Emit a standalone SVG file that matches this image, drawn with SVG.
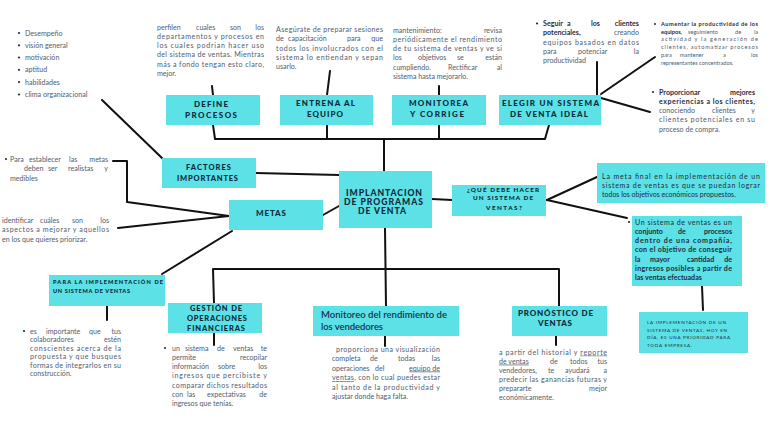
<svg xmlns="http://www.w3.org/2000/svg" width="768" height="431" viewBox="0 0 768 431">
<style>
.box{fill:#5ce1e6}
.lbl{font-family:Lato,"Open Sans",sans-serif;font-weight:900;fill:#0d2a3b}
.t{font-family:Lato,"Open Sans",sans-serif;font-size:7.1px;fill:#505d70}
.s{font-size:5.6px}
.m{font-size:7px}
.b{font-weight:700;fill:#1f2d42}
.n{fill:#1f2d42}
.p{font-family:Lato,"Open Sans",sans-serif;font-size:4.6px;fill:#1f2d42}
.c line,.c polyline{stroke:#111;stroke-width:2;fill:none;stroke-linecap:round;stroke-linejoin:round}
.dot{fill:#1f2d42}
</style>
<rect width="768" height="431" fill="#ffffff"/>

<g id="connectors" class="c">
<line x1="102" y1="100" x2="163" y2="159"/>
<line x1="212" y1="86" x2="213" y2="95"/>
<line x1="330" y1="71" x2="327" y2="95"/>
<line x1="439" y1="86" x2="439" y2="95"/>
<line x1="597" y1="62" x2="597" y2="95"/>
<line x1="601" y1="94" x2="655" y2="57"/>
<line x1="601" y1="98" x2="650" y2="112"/>
<polyline points="213,125 215,139 545,139 549,125"/>
<line x1="327" y1="125" x2="327" y2="139"/>
<line x1="439" y1="125" x2="439" y2="139"/>
<line x1="384" y1="139" x2="384" y2="171"/>
<line x1="256" y1="173" x2="339" y2="175"/>
<polyline points="113,161 127,161 127,202 229,216"/>
<line x1="118" y1="228" x2="229" y2="216"/>
<line x1="232" y1="231" x2="162" y2="274"/>
<line x1="323" y1="215" x2="339" y2="206"/>
<line x1="432" y1="199" x2="452" y2="200"/>
<line x1="547" y1="200" x2="597" y2="177"/>
<line x1="547" y1="200" x2="627" y2="218"/>
<line x1="702" y1="286" x2="703" y2="310"/>
<line x1="385" y1="228" x2="386" y2="306"/>
<polyline points="214,303 213,269 559,269 559,306"/>
<line x1="107" y1="306" x2="107" y2="320"/>
<line x1="214" y1="333" x2="214" y2="345"/>
<line x1="385" y1="336" x2="385" y2="346"/>
<line x1="556" y1="336" x2="556" y2="345"/>
</g>

<g id="lista-factores">
<circle class="dot" cx="19" cy="33" r="1.1"/><text class="t" x="25" y="35.5">Desempeño</text>
<circle class="dot" cx="19" cy="45.3" r="1.1"/><text class="t" x="25" y="47.8">visión general</text>
<circle class="dot" cx="19" cy="57.5" r="1.1"/><text class="t" x="25" y="60">motivación</text>
<circle class="dot" cx="19" cy="69.8" r="1.1"/><text class="t" x="25" y="72.3">aptitud</text>
<circle class="dot" cx="19" cy="82.1" r="1.1"/><text class="t" x="25" y="84.6">habilidades</text>
<circle class="dot" cx="19" cy="94.5" r="1.1"/><text class="t" x="25" y="97">clima organizacional</text>
</g>

<g id="texto-define">
<text class="t" y="29.8"><tspan x="157">perfilen</tspan><tspan x="196">cuales</tspan><tspan x="230">son</tspan></text>
<text class="t" x="264" y="29.8" text-anchor="end">los</text>
<text class="t" x="157" y="39" textLength="107" lengthAdjust="spacing">departamentos y procesos en</text>
<text class="t" x="157" y="48.2" textLength="107" lengthAdjust="spacing">los cuales podrian hacer uso</text>
<text class="t" x="157" y="57.4" textLength="107" lengthAdjust="spacing">del sistema de ventas. Mientras</text>
<text class="t" x="157" y="66.6" textLength="107" lengthAdjust="spacing">más a fondo tengan esto claro,</text>
<text class="t" x="157" y="75.8">mejor.</text>
</g>

<g id="texto-entrena">
<text class="t" x="276" y="32" textLength="107" lengthAdjust="spacing">Asegúrate de preparar sesiones</text>
<text class="t" y="41.3"><tspan x="276">de</tspan><tspan x="288">capacitación</tspan><tspan x="347">para</tspan></text>
<text class="t" x="383" y="41.3" text-anchor="end">que</text>
<text class="t" x="276" y="50.5" textLength="107" lengthAdjust="spacing">todos los involucrados con el</text>
<text class="t" x="276" y="59.7" textLength="107" lengthAdjust="spacing">sistema lo entiendan y sepan</text>
<text class="t" x="276" y="69">usarlo.</text>
</g>

<g id="texto-monitorea">
<text class="t" x="393" y="32.5">mantenimiento:</text>
<text class="t" x="502" y="32.5" text-anchor="end">revisa</text>
<text class="t" x="393" y="41.8" textLength="109" lengthAdjust="spacing">periódicamente el rendimiento</text>
<text class="t" x="393" y="51.1" textLength="109" lengthAdjust="spacing">de tu sistema de ventas y ve si</text>
<text class="t" y="60.4"><tspan x="393">los</tspan><tspan x="418">objetivos</tspan><tspan x="457">se</tspan></text>
<text class="t" x="502" y="60.4" text-anchor="end">están</text>
<text class="t" y="69.7"><tspan x="393">cumpliendo.</tspan><tspan x="448">Rectificar</tspan></text>
<text class="t" x="502" y="69.7" text-anchor="end">al</text>
<text class="t" x="393" y="79">sistema hasta mejorarlo.</text>
</g>

<g id="texto-seguir">
<circle class="dot" cx="537" cy="23.5" r="1.1"/>
<text class="t b" y="26"><tspan x="543">Seguir</tspan><tspan x="567">a</tspan><tspan x="591">los</tspan></text>
<text class="t b" x="639" y="26" text-anchor="end">clientes</text>
<text class="t b" x="543" y="35.2">potenciales,</text>
<text class="t" x="639" y="35.2" text-anchor="end">creando</text>
<text class="t" x="543" y="44.5" textLength="96" lengthAdjust="spacing">equipos basados en datos</text>
<text class="t" y="53.8"><tspan x="543">para</tspan><tspan x="578">potenciar</tspan></text>
<text class="t" x="639" y="53.8" text-anchor="end">la</text>
<text class="t" x="543" y="63">productividad</text>
</g>

<g id="texto-aumentar">
<circle class="dot" cx="655" cy="24" r="1"/>
<text class="t s b" x="661" y="26" textLength="97" lengthAdjust="spacing">Aumentar la productividad de los</text>
<text class="t s b" x="661" y="33.7">equipos,</text>
<text class="t s" y="33.7"><tspan x="688">seguimiento</tspan><tspan x="735">de</tspan></text>
<text class="t s" x="758" y="33.7" text-anchor="end">la</text>
<text class="t s" x="661" y="41.4" textLength="97" lengthAdjust="spacing">actividad y la generación de</text>
<text class="t s" x="661" y="49.1" textLength="97" lengthAdjust="spacing">clientes, automatizar procesos</text>
<text class="t s" y="56.8"><tspan x="661">para</tspan><tspan x="680">mantener</tspan><tspan x="723">a</tspan></text>
<text class="t s" x="758" y="56.8" text-anchor="end">los</text>
<text class="t s" x="661" y="64.5">representantes concentrados.</text>
</g>

<g id="texto-proporcionar">
<circle class="dot" cx="653" cy="92" r="1.1"/>
<text class="t b" x="659" y="94.5">Proporcionar</text>
<text class="t b" x="755" y="94.5" text-anchor="end">mejores</text>
<text class="t b" x="659" y="103.8" textLength="96" lengthAdjust="spacing">experiencias a los clientes,</text>
<text class="t" y="113"><tspan x="659">conociendo</tspan><tspan x="712">clientes</tspan></text>
<text class="t" x="755" y="113" text-anchor="end">y</text>
<text class="t" x="659" y="122.3" textLength="96" lengthAdjust="spacing">clientes potenciales en su</text>
<text class="t" x="659" y="131.5">proceso de compra.</text>
</g>

<g id="texto-metas-1">
<circle class="dot" cx="6" cy="159" r="1.1"/>
<text class="t" y="161.5"><tspan x="10">Para</tspan><tspan x="29">establecer</tspan><tspan x="69">las</tspan></text>
<text class="t" x="108" y="161.5" text-anchor="end">metas</text>
<text class="t" y="171"><tspan x="24">deben</tspan><tspan x="48">ser</tspan><tspan x="68">realistas</tspan></text>
<text class="t" x="108" y="171" text-anchor="end">y</text>
<text class="t" x="10" y="180.5">medibles</text>
</g>

<g id="texto-metas-2">
<text class="t" y="222.5"><tspan x="2">identificar</tspan><tspan x="40">cuáles</tspan><tspan x="72">son</tspan></text>
<text class="t" x="109" y="222.5" text-anchor="end">los</text>
<text class="t" x="2" y="232" textLength="107" lengthAdjust="spacing">aspectos a mejorar y aquellos</text>
<text class="t" x="2" y="241.5">en los que quieres priorizar.</text>
</g>

<g id="texto-para-la">
<circle class="dot" cx="24" cy="331" r="1.1"/>
<text class="t" y="333.5"><tspan x="30">es</tspan><tspan x="46">importante</tspan><tspan x="89">que</tspan></text>
<text class="t" x="121" y="333.5" text-anchor="end">tus</text>
<text class="t" x="30" y="342">colaboradores</text>
<text class="t" x="121" y="342" text-anchor="end">estén</text>
<text class="t" x="30" y="350.5" textLength="91" lengthAdjust="spacing">conscientes acerca de la</text>
<text class="t" x="30" y="359" textLength="91" lengthAdjust="spacing">propuesta y que busques</text>
<text class="t" x="30" y="367.5" textLength="91" lengthAdjust="spacing">formas de integrarlos en su</text>
<text class="t" x="30" y="376">construcción.</text>
</g>

<g id="texto-gestion">
<circle class="dot" cx="165" cy="348" r="1.1"/>
<text class="t" y="350.5"><tspan x="172">un</tspan><tspan x="185">sistema</tspan><tspan x="217">de</tspan><tspan x="233">ventas</tspan></text>
<text class="t" x="267" y="350.5" text-anchor="end">te</text>
<text class="t" x="172" y="359.8">permite</text>
<text class="t" x="267" y="359.8" text-anchor="end">recopilar</text>
<text class="t" y="369.1"><tspan x="172">información</tspan><tspan x="218">sobre</tspan></text>
<text class="t" x="267" y="369.1" text-anchor="end">los</text>
<text class="t" x="172" y="378.4" textLength="95" lengthAdjust="spacing">ingresos que percibiste y</text>
<text class="t" x="172" y="387.7" textLength="95" lengthAdjust="spacing">comparar dichos resultados</text>
<text class="t" y="397"><tspan x="172">con</tspan><tspan x="187">las</tspan><tspan x="207">expectativas</tspan></text>
<text class="t" x="267" y="397" text-anchor="end">de</text>
<text class="t" x="172" y="406.3">ingresos que tenías.</text>
</g>

<g id="texto-monitoreo">
<text class="t" x="336" y="351.5" textLength="104" lengthAdjust="spacing">proporciona una visualización</text>
<text class="t" y="361"><tspan x="332">completa</tspan><tspan x="370">de</tspan><tspan x="398">todas</tspan></text>
<text class="t" x="440" y="361" text-anchor="end">las</text>
<text class="t" y="370.5"><tspan x="332">operaciones</tspan><tspan x="375">del</tspan></text>
<text class="t" x="440" y="370.5" text-anchor="end" text-decoration="underline">equipo de</text>
<text class="t" x="332" y="380" textLength="108" lengthAdjust="spacing"><tspan text-decoration="underline">ventas</tspan>, con lo cual puedes estar</text>
<text class="t" x="332" y="389.5" textLength="108" lengthAdjust="spacing">al tanto de la productividad y</text>
<text class="t" x="332" y="399">ajustar donde haga falta.</text>
</g>

<g id="texto-pronostico">
<text class="t" x="499" y="354.5" textLength="108" lengthAdjust="spacing">a partir del historial y <tspan text-decoration="underline">reporte</tspan></text>
<text class="t" x="499" y="363.6" text-decoration="underline">de ventas</text>
<text class="t" y="363.6"><tspan x="550">de</tspan><tspan x="570">todos</tspan></text>
<text class="t" x="607" y="363.6" text-anchor="end">tus</text>
<text class="t" y="372.7"><tspan x="499">vendedores,</tspan><tspan x="548">te</tspan><tspan x="565">ayudará</tspan></text>
<text class="t" x="607" y="372.7" text-anchor="end">a</text>
<text class="t" x="499" y="381.8" textLength="108" lengthAdjust="spacing">predecir las ganancias futuras y</text>
<text class="t" x="499" y="390.9">prepararte</text>
<text class="t" x="607" y="390.9" text-anchor="end">mejor</text>
<text class="t" x="499" y="400">económicamente.</text>
</g>

<g id="define-procesos">
<rect class="box" x="166" y="95" width="94" height="30"/>
<text class="lbl" font-size="8" x="194" y="107" textLength="34" lengthAdjust="spacing">DEFINE</text>
<text class="lbl" font-size="8" x="185" y="118" textLength="52" lengthAdjust="spacing">PROCESOS</text>
</g>
<g id="entrena-equipo">
<rect class="box" x="280" y="95" width="93" height="30"/>
<text class="lbl" font-size="8" x="296" y="106" textLength="59" lengthAdjust="spacing">ENTRENA AL</text>
<text class="lbl" font-size="8" x="307" y="117" textLength="36" lengthAdjust="spacing">EQUIPO</text>
</g>
<g id="monitorea-corrige">
<rect class="box" x="392" y="95" width="94" height="30"/>
<text class="lbl" font-size="8" x="409" y="106" textLength="59" lengthAdjust="spacing">MONITOREA</text>
<text class="lbl" font-size="8" x="410" y="117" textLength="54" lengthAdjust="spacing">Y CORRIGE</text>
</g>
<g id="elegir-sistema">
<rect class="box" x="499" y="95" width="102" height="30"/>
<text class="lbl" font-size="8" x="502" y="106" textLength="97" lengthAdjust="spacing">ELEGIR UN SISTEMA</text>
<text class="lbl" font-size="8" x="510" y="116.5" textLength="78" lengthAdjust="spacing">DE VENTA IDEAL</text>
</g>
<g id="factores-importantes">
<rect class="box" x="162" y="158" width="94" height="30"/>
<text class="lbl" font-size="7.5" x="186" y="170" textLength="45" lengthAdjust="spacing">FACTORES</text>
<text class="lbl" font-size="7.5" x="177" y="181" textLength="61" lengthAdjust="spacing">IMPORTANTES</text>
</g>
<g id="metas">
<rect class="box" x="229" y="200" width="94" height="30"/>
<text class="lbl" font-size="8" x="256" y="216" textLength="30" lengthAdjust="spacing">METAS</text>
</g>
<g id="implantacion">
<rect class="box" x="339" y="171" width="93" height="57"/>
<text class="lbl" font-size="8.6" x="346" y="195.5" textLength="76" lengthAdjust="spacing">IMPLANTACION</text>
<text class="lbl" font-size="8.6" x="344" y="204.5" textLength="79" lengthAdjust="spacing">DE PROGRAMAS</text>
<text class="lbl" font-size="8.6" x="358" y="213.5" textLength="48" lengthAdjust="spacing">DE VENTA</text>
</g>
<g id="que-debe-hacer">
<rect class="box" x="452" y="185" width="94" height="31"/>
<text class="lbl" font-size="6.3" x="467" y="191.5" textLength="72" lengthAdjust="spacing">¿QUÉ DEBE HACER</text>
<text class="lbl" font-size="6.3" x="473" y="200" textLength="60" lengthAdjust="spacing">UN SISTEMA DE</text>
<text class="lbl" font-size="6.3" x="486" y="209.5" textLength="36" lengthAdjust="spacing">VENTAS?</text>
</g>
<g id="meta-final">
<rect class="box" x="597" y="163" width="168" height="40"/>
<text class="t m n" x="602" y="178.5" textLength="158" lengthAdjust="spacing">La meta final en la implementación de un</text>
<text class="t m n" x="602" y="187.5" textLength="158" lengthAdjust="spacing">sistema de ventas es que se puedan lograr</text>
<text class="t m n" x="602" y="196.5">todos los objetivos económicos propuestos.</text>
</g>
<g id="un-sistema">
<rect class="box" x="632" y="216" width="110" height="70"/>
<circle class="dot" cx="629" cy="222" r="1.1"/>
<text class="t n" x="635" y="224.5" textLength="97" lengthAdjust="spacing">Un sistema de ventas es un</text>
<text class="t b" y="233.8"><tspan x="635">conjunto</tspan><tspan x="678">de</tspan></text>
<text class="t b" x="732" y="233.8" text-anchor="end">procesos</text>
<text class="t b" x="635" y="243.1" textLength="97" lengthAdjust="spacing">dentro de una compañía,</text>
<text class="t b" x="635" y="252.4" textLength="97" lengthAdjust="spacing">con el objetivo de conseguir</text>
<text class="t b" y="261.7"><tspan x="635">la</tspan><tspan x="650">mayor</tspan><tspan x="687">cantidad</tspan></text>
<text class="t b" x="732" y="261.7" text-anchor="end">de</text>
<text class="t b" x="635" y="271" textLength="97" lengthAdjust="spacing">ingresos posibles a partir de</text>
<text class="t b" x="635" y="280.3">las ventas efectuadas</text>
</g>
<g id="para-la-implementacion">
<rect class="box" x="49" y="275" width="116" height="31"/>
<text class="lbl" font-size="5.6" x="53" y="284" textLength="110" lengthAdjust="spacing">PARA LA IMPLEMENTACIÓN DE</text>
<text class="lbl" font-size="5.6" x="53" y="293" textLength="77" lengthAdjust="spacing">UN SISTEMA DE VENTAS</text>
</g>
<g id="gestion-operaciones">
<rect class="box" x="168" y="303" width="94" height="30"/>
<text class="lbl" font-size="7.5" x="190" y="311" textLength="52" lengthAdjust="spacing">GESTIÓN DE</text>
<text class="lbl" font-size="7.5" x="187" y="321" textLength="60" lengthAdjust="spacing">OPERACIONES</text>
<text class="lbl" font-size="7.5" x="187" y="330.7" textLength="58" lengthAdjust="spacing">FINANCIERAS</text>
</g>
<g id="monitoreo-rendimiento">
<rect class="box" x="313" y="306" width="146" height="30"/>
<text font-family="Lato,'Open Sans',sans-serif" font-weight="600" font-size="9.5" fill="#17324a" x="321" y="317.5" textLength="126" lengthAdjust="spacing">Monitoreo del rendimiento de</text>
<text font-family="Lato,'Open Sans',sans-serif" font-weight="600" font-size="9.5" fill="#17324a" x="321" y="329.5" textLength="62" lengthAdjust="spacing">los vendedores</text>
</g>
<g id="pronostico-ventas">
<rect class="box" x="512" y="306" width="95" height="30"/>
<text class="lbl" font-size="8" x="518" y="316" textLength="75" lengthAdjust="spacing">PRONÓSTICO DE</text>
<text class="lbl" font-size="8" x="538" y="326" textLength="34" lengthAdjust="spacing">VENTAS</text>
</g>
<g id="prioridad">
<rect class="box" x="639" y="312" width="109" height="41"/>
<text class="p" x="647" y="324" textLength="79" lengthAdjust="spacing">LA IMPLEMENTACIÓN DE UN</text>
<text class="p" x="647" y="331.5" textLength="80" lengthAdjust="spacing">SISTEMA DE VENTAS, HOY EN</text>
<text class="p" x="647" y="339" textLength="83" lengthAdjust="spacing">DÍA, ES UNA PRIORIDAD PARA</text>
<text class="p" x="647" y="346.5" textLength="45" lengthAdjust="spacing">TODA EMPRESA.</text>
</g>
</svg>
